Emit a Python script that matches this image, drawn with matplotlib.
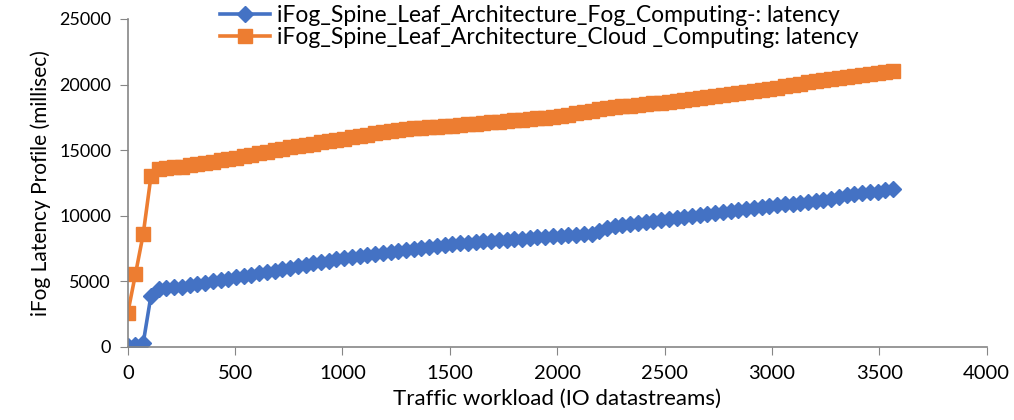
import numpy as np
import matplotlib
matplotlib.use('Agg')
import matplotlib.pyplot as plt

''' data read off the reference chart '''
workload = np.arange(0, 3600, 36)

fog_latency = [
    80, 150, 300, 3900, 4400, 4470, 4530, 4600, 4700, 4810,
    4900, 5010, 5110, 5210, 5310, 5410, 5510, 5610, 5710, 5810,
    5920, 6020, 6130, 6240, 6360, 6470, 6580, 6690, 6800, 6870,
    6950, 7020, 7100, 7170, 7250, 7320, 7400, 7480, 7560, 7640,
    7720, 7800, 7860, 7910, 7950, 7990, 8040, 8080, 8120, 8170,
    8210, 8260, 8300, 8350, 8390, 8440, 8480, 8510, 8540, 8580,
    8640, 8800, 9100, 9230, 9300, 9370, 9440, 9510, 9580, 9650,
    9720, 9800, 9870, 9950, 10020, 10100, 10170, 10250, 10330, 10410,
    10490, 10570, 10650, 10720, 10790, 10860, 10920, 10990, 11050, 11120,
    11180, 11300, 11450, 11590, 11660, 11720, 11780, 11840, 11930, 12040]

cloud_latency = [
    2590, 5560, 8600, 13000, 13550, 13620, 13690, 13750, 13850, 13940,
    14040, 14130, 14220, 14320, 14410, 14530, 14640, 14760, 14870, 14990,
    15100, 15220, 15310, 15400, 15500, 15590, 15690, 15780, 15870, 15970,
    16070, 16170, 16280, 16380, 16480, 16560, 16600, 16650, 16690, 16730,
    16780, 16820, 16870, 16920, 16970, 17020, 17070, 17120, 17170, 17220,
    17270, 17320, 17370, 17420, 17470, 17520, 17600, 17700, 17800, 17900,
    18000, 18100, 18200, 18280, 18340, 18390, 18450, 18510, 18570, 18620,
    18690, 18760, 18830, 18910, 18980, 19050, 19120, 19200, 19280, 19360,
    19440, 19520, 19590, 19670, 19770, 19870, 19970, 20070, 20170, 20270,
    20370, 20450, 20510, 20580, 20640, 20710, 20770, 20840, 20940, 21050]

s_fogLabel = 'iFog_Spine_Leaf_Architecture_Fog_Computing-: latency'
s_cloudLabel = 'iFog_Spine_Leaf_Architecture_Cloud _Computing: latency'

plt.rcParams['font.family'] = ['Lato', 'DejaVu Sans']

fig = plt.figure(figsize=(10.14, 4.2), dpi=100)
ax = fig.add_axes([0.126, 0.174, 0.847, 0.781])

ax.plot(workload, fog_latency, color='#4472C4', lw=2.6, marker='D', ms=8,
        label=s_fogLabel)
ax.plot(workload, cloud_latency, color='#ED7D31', lw=2.6, marker='s', ms=9.5,
        label=s_cloudLabel)

ax.set_xlim(0, 4000)
ax.set_ylim(0, 25000)
ax.set_xticks(range(0, 4001, 500))
ax.set_yticks(range(0, 25001, 5000))

for s in ['top', 'right']:
    ax.spines[s].set_visible(False)
for s in ['left', 'bottom']:
    ax.spines[s].set_color('#868686')
    ax.spines[s].set_linewidth(1.2)

ax.tick_params(axis='x', direction='out', length=6, color='#868686',
               labelsize=14.5, pad=7)
ax.tick_params(axis='y', direction='out', length=6, color='#868686',
               labelsize=13, pad=6)

ax.set_xlabel('Traffic workload (IO datastreams)', fontsize=16, labelpad=5)
ax.set_ylabel('iFog Latency Profile (millisec)', fontsize=15, labelpad=6)

fig.legend(loc='upper left', bbox_to_anchor=(0.217, 0.988), frameon=False,
           fontsize=16.5, handlelength=2.2, handletextpad=0.3,
           borderpad=0, labelspacing=0.05, borderaxespad=0)

fig.savefig('out.png', dpi=100)
